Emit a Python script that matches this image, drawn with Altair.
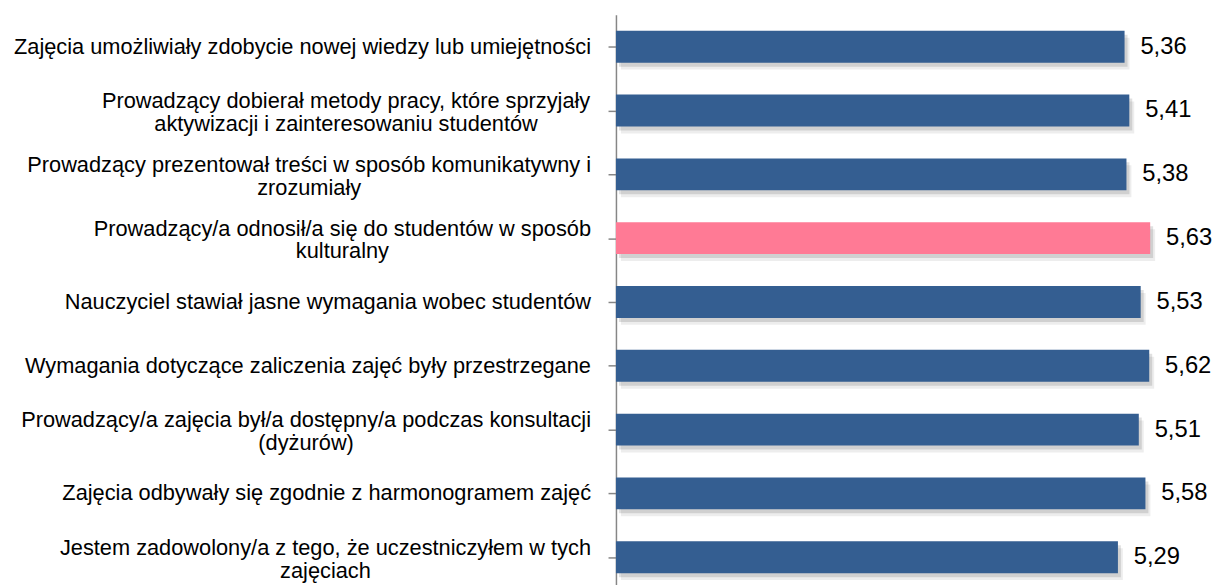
import altair as alt
import pandas as pd

# ---- data ----
labels = [
    "Zajęcia umożliwiały zdobycie nowej wiedzy lub umiejętności",
    "Prowadzący dobierał metody pracy, które sprzyjały|aktywizacji i zainteresowaniu studentów",
    "Prowadzący prezentował treści w sposób komunikatywny i|zrozumiały",
    "Prowadzący/a odnosił/a się do studentów w sposób|kulturalny",
    "Nauczyciel stawiał jasne wymagania wobec studentów",
    "Wymagania dotyczące zaliczenia zajęć były przestrzegane",
    "Prowadzący/a zajęcia był/a dostępny/a podczas konsultacji|(dyżurów)",
    "Zajęcia odbywały się zgodnie z harmonogramem zajęć",
    "Jestem zadowolony/a z tego, że uczestniczyłem w tych|zajęciach",
]
values = [5.36, 5.41, 5.38, 5.63, 5.53, 5.62, 5.51, 5.58, 5.29]

# ---- styling ----
FONT = "Liberation Sans"
LABEL_SIZE = 22
LINE_H = 23
VALUE_SIZE = 24
BLUE = "#345E91"
PINK = "#FF7A95"
AXIS_GRAY = "#868686"
W, H = 575, 580
LABEL_GAP = 25

# Arial / Liberation Sans advance widths (1/1000 em) used to centre wrapped lines
ADV = {
    " ": 278, ",": 278, "/": 278, "(": 333, ")": 333, ".": 278,
    "a": 556, "b": 556, "c": 500, "d": 556, "e": 556, "f": 278, "g": 556,
    "h": 556, "i": 222, "j": 222, "k": 500, "l": 222, "m": 833, "n": 556,
    "o": 556, "p": 556, "q": 556, "r": 333, "s": 500, "t": 278, "u": 556,
    "v": 500, "w": 722, "x": 500, "y": 500, "z": 500,
    "ą": 556, "ę": 556, "ó": 556, "ś": 500, "ć": 500, "ż": 500, "ź": 500,
    "ł": 222, "ń": 556,
    "J": 500, "N": 722, "P": 667, "W": 944, "Z": 611,
}


def text_width(s, size):
    return sum(ADV.get(ch, 556) for ch in s) * size / 1000.0


label_x = [
    -LABEL_GAP - max(text_width(line, LABEL_SIZE) for line in lab.split("|")) / 2
    for lab in labels
]

df = pd.DataFrame({"cat": labels, "value": values, "lx": label_x})

bar_y = alt.Y(
    "cat:N",
    sort=labels,
    scale=alt.Scale(domain=labels, paddingInner=0.5, paddingOuter=0.25),
    axis=None,
)
x_enc = alt.X("value:Q", scale=alt.Scale(domain=[0, 6]), axis=None)

base = alt.Chart()

tick_layer = base.mark_point(opacity=0).encode(
    y=alt.Y(
        "cat:N",
        sort=labels,
        scale=alt.Scale(domain=labels, paddingInner=0, paddingOuter=0),
        axis=alt.Axis(
            title=None,
            labels=False,
            ticks=True,
            bandPosition=0,
            tickSize=8,
            tickColor=AXIS_GRAY,
            tickWidth=1.5,
            domainColor=AXIS_GRAY,
            domainWidth=1.5,
            grid=False,
        ),
    )
)

shadow1 = base.mark_bar(
    color="#000000", opacity=0.07, xOffset=5, x2Offset=5, yOffset=7, y2Offset=7
).encode(y=bar_y, x=x_enc)
shadow2 = base.mark_bar(
    color="#000000", opacity=0.12, xOffset=3, x2Offset=3, yOffset=4, y2Offset=4
).encode(y=bar_y, x=x_enc)

bars = base.mark_bar().encode(
    y=bar_y,
    x=x_enc,
    color=alt.condition(
        "datum.value == datum.maxv", alt.value(PINK), alt.value(BLUE)
    ),
)

value_text = base.mark_text(
    align="left", baseline="middle", dx=16, font=FONT, fontSize=VALUE_SIZE,
    color="#000000",
).encode(y=bar_y, x=x_enc, text="vlabel:N")

cat_enc = dict(
    y=bar_y,
    x=alt.X("lx:Q", scale=None, axis=None),
    text="lines:N",
)

cat_text_1 = base.mark_text(
    align="center", baseline="middle", dy=0, font=FONT, fontSize=LABEL_SIZE,
    lineHeight=LINE_H, color="#000000",
).encode(**cat_enc).transform_filter("length(datum.lines) == 1")

cat_text_2 = base.mark_text(
    align="center", baseline="middle", dy=2 - LINE_H / 2, font=FONT,
    fontSize=LABEL_SIZE, lineHeight=LINE_H, color="#000000",
).encode(**cat_enc).transform_filter("length(datum.lines) == 2")

chart = (
    alt.layer(
        tick_layer, shadow1, shadow2, bars, value_text, cat_text_1, cat_text_2,
        data=df,
    )
    .transform_joinaggregate(maxv="max(value)")
    .transform_calculate(
        vlabel="replace(format(datum.value, '.2f'), '.', ',')",
        lines="split(datum.cat, '|')",
    )
    .resolve_scale(y="independent")
    .properties(
        width=W,
        height=H,
        autosize=alt.AutoSizeParams(type="none"),
        padding={"left": 614, "top": 4, "right": 30, "bottom": 0},
        background="white",
    )
    .configure_view(stroke=None)
)

chart.save("out.html", embed_options={"renderer": "svg", "actions": False})
